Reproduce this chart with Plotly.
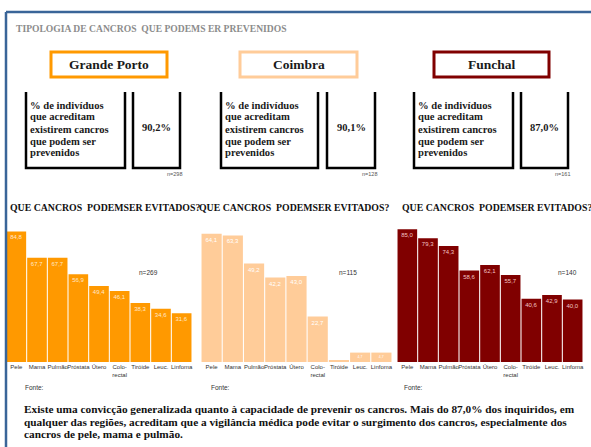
import plotly.graph_objects as go

W, H = 591, 447

categories = ["Pele", "Mama", "Pulmão", "Próstata", "Útero", "Colo-<br>rectal", "Tiróide", "Leuc.", "Linfoma"]
grande_porto = [84.8, 67.7, 67.7, 56.9, 49.4, 46.1, 38.3, 34.6, 31.6]
coimbra = [64.1, 63.3, 49.2, 42.2, 43.0, 22.7, 0.9, 4.7, 4.7]
funchal = [85.0, 79.3, 74.3, 58.6, 62.1, 55.7, 40.6, 42.9, 40.0]
coimbra_labels_hidden = [6]  # Tiróide bar too small for a label

regions = ["Grande Porto", "Coimbra", "Funchal"]
pct_prevent = ["90,2%", "90,1%", "87,0%"]
n_box = ["n=298", "n=128", "n=161"]
n_chart = ["n=269", "n=115", "n=140"]
colors = ["#FF9900", "#FFCC99", "#800000"]
label_colors = ["#FFE8CC", "#FFFFFF", "#F2C4C4"]

box_lines = ["% de indivíduos", "que acreditam", "existirem cancros", "que podem ser", "prevenidos"]
paragraph_lines = [
    "Existe uma convicção generalizada quanto à capacidade de prevenir os cancros. Mais do 87,0% dos inquiridos, em",
    "qualquer das regiões, acreditam que a vigilância médica pode evitar o surgimento dos cancros, especialmente dos",
    "cancros de pele, mama e pulmão.",
]


def px(x):
    return x / W


def py(y):
    return 1 - y / H


def fmt(v):
    return f"{v:.1f}".replace(".", ",")


fig = go.Figure()

series = [grande_porto, coimbra, funchal]
x_domains = [[px(6), px(192)], [px(201), px(392)], [px(397), px(583)]]
y_tops = [92.2, 71.0, 91.0]
y_dom = [py(362), py(220)]

for i, vals in enumerate(series):
    texts = [fmt(v) for v in vals]
    if i == 1:
        for j in coimbra_labels_hidden:
            texts[j] = ""
    xa = "x" if i == 0 else f"x{i+1}"
    ya = "y" if i == 0 else f"y{i+1}"
    fig.add_trace(go.Bar(
        x=categories, y=vals, text=texts,
        textposition="inside", insidetextanchor="end",
        textfont=dict(size=6, color=label_colors[i], family="Liberation Sans"),
        marker=dict(color=colors[i], line=dict(width=0)),
        xaxis=xa, yaxis=ya, showlegend=False, hoverinfo="skip",
        cliponaxis=False,
    ))
    kx = "xaxis" if i == 0 else f"xaxis{i+1}"
    ky = "yaxis" if i == 0 else f"yaxis{i+1}"
    fig.layout[kx] = dict(domain=x_domains[i], anchor=ya, showgrid=False, showline=False,
                          ticks="", tickfont=dict(size=6, color="#333333", family="Liberation Sans"),
                          tickangle=0, fixedrange=True)
    fig.layout[ky] = dict(domain=y_dom, anchor=xa, range=[0, y_tops[i]], visible=False,
                          fixedrange=True)

shapes = []
# blue frame
shapes.append(dict(type="line", xref="paper", yref="paper", x0=px(6), x1=px(591), y0=py(12), y1=py(12),
                   line=dict(color="#3A6598", width=2.5)))
shapes.append(dict(type="line", xref="paper", yref="paper", x0=px(6), x1=px(6), y0=py(12), y1=py(447),
                   line=dict(color="#3A6598", width=2.5)))

header_x = [(51, 167), (240, 357), (434, 549)]
left_box = [(26, 125), (221, 318), (414, 513)]
right_box = [(133, 180), (327, 375), (521, 568)]
title_x = [8, 197, 400]
n_chart_x = [148, 348, 567]
fonte_x = [23, 209, 402]
box_line_y = [105, 117, 129, 141, 152]
para_y = [409, 422, 434]

annotations = []


def ann(text, x, y, size, color="#111111", family="Liberation Serif", xanchor="left"):
    annotations.append(dict(text=text, x=px(x), y=py(y), xref="paper", yref="paper", xanchor=xanchor,
                            yanchor="middle", align="left", showarrow=False,
                            font=dict(size=size, color=color, family=family)))


ann("<b>TIPOLOGIA DE CANCROS  QUE PODEMS ER PREVENIDOS</b>", 14, 29, 9.6, color="#8C8C8C")

for i in range(3):
    hx0, hx1 = header_x[i]
    shapes.append(dict(type="rect", xref="paper", yref="paper", x0=px(hx0), x1=px(hx1), y0=py(77), y1=py(52),
                       line=dict(color=colors[i], width=3)))
    ann(f"<b>{regions[i]}</b>", (hx0 + hx1) / 2, 65, 13.5, color="#1a1a1a", xanchor="center")
    for (bx0, bx1) in (left_box[i], right_box[i]):
        path = f"M {px(bx0)} {py(92)} L {px(bx0)} {py(168)} L {px(bx1)} {py(168)} L {px(bx1)} {py(92)}"
        shapes.append(dict(type="path", xref="paper", yref="paper", path=path,
                           line=dict(color="black", width=2.5)))
    for line, ly in zip(box_lines, box_line_y):
        ann(f"<b>{line}</b>", left_box[i][0] + 2, ly, 10.6, color="#1a1a1a")
    ann(f"<b>{pct_prevent[i]}</b>", (right_box[i][0] + right_box[i][1]) / 2, 127, 10.5, color="#1a1a1a",
        xanchor="center")
    ann(n_box[i], right_box[i][1] - 6, 174, 5.5, color="#555555", family="Liberation Sans", xanchor="center")
    ann("<b>QUE CANCROS  PODEMSER EVITADOS?</b>", title_x[i], 208, 9.8)
    ann(n_chart[i], n_chart_x[i], 272, 6.5, color="#333333", family="Liberation Sans", xanchor="center")
    ann("Fonte:", fonte_x[i], 387, 6.5, color="#333333", family="Liberation Sans")

for line, ly in zip(paragraph_lines, para_y):
    ann(f"<b>{line}</b>", 22, ly, 11.3)

fig.update_layout(width=W, height=H, margin=dict(l=0, r=0, t=0, b=0), paper_bgcolor="white",
                  plot_bgcolor="white", bargap=0.05, shapes=shapes, annotations=annotations)

fig.write_html("out.html", config={"displayModeBar": False},
               post_script="document.body.style.margin='0';document.body.style.overflow='hidden';")
